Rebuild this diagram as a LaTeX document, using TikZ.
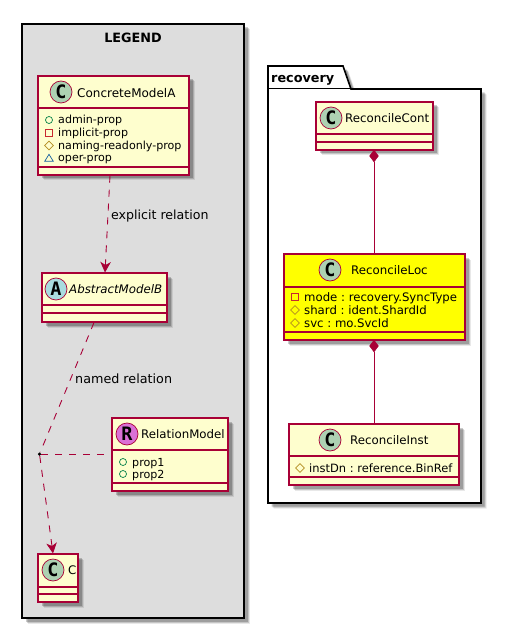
\documentclass[tikz,border=0pt]{standalone}
\usepackage{fontspec}
\setmainfont{DejaVu Sans}
\newfontfamily\spotfont{DejaVu Sans Mono}
\usetikzlibrary{arrows.meta,shadows,shapes.geometric}
\definecolor{umlline}{HTML}{A80036}
\definecolor{umlfill}{HTML}{FEFECE}
\definecolor{umlyellow}{HTML}{FFFF00}
\definecolor{spotclass}{HTML}{ADD1B2}
\definecolor{spotabs}{HTML}{A9DCDF}
\definecolor{spotrel}{HTML}{DA70D6}
\definecolor{iconpub}{HTML}{038048}
\definecolor{iconpriv}{HTML}{C82930}
\definecolor{iconprot}{HTML}{B38D22}
\definecolor{iconpkg}{HTML}{1963A0}
\tikzset{
  softshadow/.style={
    drop shadow={shadow xshift=5.5pt, shadow yshift=-5.5pt, fill=black, opacity=0.09},
    drop shadow={shadow xshift=4.5pt, shadow yshift=-4.5pt, fill=black, opacity=0.15},
    drop shadow={shadow xshift=3.5pt, shadow yshift=-3.5pt, fill=black, opacity=0.2}},
  classbox/.style={draw=umlline, fill=umlfill, line width=1.1pt, inner sep=0pt, softshadow},
  frameline/.style={draw=black, line width=1.6pt, softshadow},
  spot/.style={circle, draw=umlline, line width=0.7pt, minimum size=22pt, inner sep=0pt, font=\spotfont\bfseries\fontsize{18.5}{18.5}\selectfont},
  classname/.style={anchor=base west, inner sep=0pt, font=\fontsize{11.8}{14}\selectfont},
  attr/.style={anchor=base west, inner sep=0pt, font=\frenchspacing\fontsize{11.1}{13}\selectfont},
  attrwide/.style={attr, font=\frenchspacing\fontsize{11.45}{13}\selectfont},
  attrloc/.style={attr, font=\frenchspacing\fontsize{11.7}{13}\selectfont},
  edgetext/.style={anchor=base west, inner sep=0pt, font=\fontsize{12.6}{14}\selectfont},
  seprule/.style={draw=umlline, line width=1.1pt},
  relline/.style={draw=umlline, line width=0.9pt},
  reldash/.style={relline, dash pattern=on 7pt off 7pt},
  compdiamond/.style={diamond, fill=umlline, draw=umlline, line width=0.4pt, minimum width=9pt, minimum height=12pt, inner sep=0pt},
  icon/.style={line width=0.7pt}
}
% 属性前的小图标
\newcommand{\iconpub}[2]{\draw[icon, draw=iconpub] (#1,#2) circle (3.5pt);}
\newcommand{\iconpriv}[2]{\draw[icon, draw=iconpriv] (#1-3.3,#2-3.3) rectangle (#1+3.3,#2+3.3);}
\newcommand{\iconprot}[2]{\draw[icon, draw=iconprot] (#1-4.3,#2) -- (#1,#2-4.3) -- (#1+4.3,#2) -- (#1,#2+4.3) -- cycle;}
\newcommand{\iconpkg}[2]{\draw[icon, draw=iconpkg] (#1-4.3,#2+3.3) -- (#1,#2-3.7) -- (#1+4.3,#2+3.3) -- cycle;}
\begin{document}
\begin{tikzpicture}[x=1pt, y=-1pt, >={Stealth[length=10.5pt, width=10.5pt, inset=3pt]}]
  \useasboundingbox (0,0) rectangle (514,644);

  % 1. 图例外框
  \node[frameline, fill=black!13.5, minimum width=222pt, minimum height=594pt, inner sep=0pt] (legendFrame) at (133,321) {};
  \node[anchor=base, inner sep=0pt, font=\bfseries\fontsize{12.8}{14}\selectfont] (legendTitle) at (133,43) {LEGEND};

  % 2. 图例里的类
  \node[classbox, minimum width=151pt, minimum height=99pt] (concA) at (113.5,125.5) {};
  \draw[seprule] (concA.west |- 0,108) -- (concA.east |- 0,108);
  \draw[seprule] (concA.west |- 0,167) -- (concA.east |- 0,167);
  \node[spot, fill=spotclass] (concASpot) at (61,92) {C};
  \node[classname, font=\fontsize{12}{14}\selectfont] (concAName) at (77,97.5) {ConcreteModelA};
  \iconpub{49}{120}
  \node[attr] (concAProp1) at (58,124) {admin-prop};
  \iconpriv{49}{133}
  \node[attr] (concAProp2) at (58,136.5) {implicit-prop};
  \iconprot{49}{145.5}
  \node[attr] (concAProp3) at (58,149.5) {naming-readonly-prop};
  \iconpkg{49}{158}
  \node[attr] (concAProp4) at (58,162) {oper-prop};

  \node[classbox, minimum width=125pt, minimum height=49pt] (absB) at (104.5,297.5) {};
  \draw[seprule] (absB.west |- 0,305) -- (absB.east |- 0,305);
  \draw[seprule] (absB.west |- 0,313) -- (absB.east |- 0,313);
  \node[spot, fill=spotabs] (absBSpot) at (56,289) {A};
  \node[classname, font=\itshape\fontsize{11.8}{14}\selectfont] (absBName) at (69,293.5) {AbstractModelB};

  \node[classbox, minimum width=116pt, minimum height=73pt] (relModel) at (170,454.5) {};
  \draw[seprule] (relModel.west |- 0,450) -- (relModel.east |- 0,450);
  \draw[seprule] (relModel.west |- 0,483) -- (relModel.east |- 0,483);
  \node[spot, fill=spotrel] (relModelSpot) at (127,434) {R};
  \node[classname] (relModelName) at (141,438.5) {RelationModel};
  \iconpub{123}{462}
  \node[attr] (relModelProp1) at (132,466) {prop1};
  \iconpub{123}{474}
  \node[attr] (relModelProp2) at (132,478) {prop2};

  \node[classbox, minimum width=40pt, minimum height=48pt] (classC) at (58,578) {};
  \draw[seprule] (classC.west |- 0,587) -- (classC.east |- 0,587);
  \draw[seprule] (classC.west |- 0,594) -- (classC.east |- 0,594);
  \node[spot, fill=spotclass] (classCSpot) at (53,570) {C};
  \node[classname] (classCName) at (68,574.5) {C};

  % 3. 图例里的连线
  \node[circle, fill=black, minimum size=3.5pt, inner sep=0pt] (relDot) at (39.5,454) {};
  \draw[reldash, ->] ([xshift=-3.5pt]concA.south) -- ([xshift=0.5pt]absB.north);
  \draw[reldash] ([xshift=-10.5pt]absB.south) -- (relDot);
  \draw[reldash, ->] (relDot) -- ([xshift=-5pt]classC.north);
  \draw[reldash] (relDot) -- (relDot -| relModel.west);
  \node[edgetext] (explicitLabel) at (111,219.5) {explicit relation};
  \node[edgetext, font=\fontsize{12.75}{14}\selectfont] (namedLabel) at (75,383.5) {named relation};

  % 4. recovery 包
  \draw[frameline, fill=white] (268,66) -- (343,66) -- (351,89) -- (481,89) -- (481,503) -- (268,503) -- cycle;
  \draw[line width=1pt] (268,89) -- (351,89);
  \node[anchor=base west, inner sep=0pt, font=\bfseries\fontsize{12.8}{14}\selectfont] (recoveryTitle) at (271,82.5) {recovery};

  % 5. 包里的类
  \node[classbox, minimum width=117pt, minimum height=48pt] (recCont) at (374.5,126) {};
  \draw[seprule] (recCont.west |- 0,134) -- (recCont.east |- 0,134);
  \draw[seprule] (recCont.west |- 0,142) -- (recCont.east |- 0,142);
  \node[spot, fill=spotclass] (recContSpot) at (331,118) {C};
  \node[classname] (recContName) at (345,122.5) {ReconcileCont};

  \node[classbox, fill=umlyellow, minimum width=181pt, minimum height=86pt] (recLoc) at (374.5,297) {};
  \draw[seprule] (recLoc.west |- 0,287) -- (recLoc.east |- 0,287);
  \draw[seprule] (recLoc.west |- 0,332) -- (recLoc.east |- 0,332);
  \node[spot, fill=spotclass] (recLocSpot) at (330,270) {C};
  \node[classname] (recLocName) at (351,274.5) {ReconcileLoc};
  \iconpriv{295}{297}
  \node[attrloc] (recLocProp1) at (304,301) {mode : recovery.SyncType};
  \iconprot{295}{310}
  \node[attrloc] (recLocProp2) at (304,314) {shard : ident.ShardId};
  \iconprot{295}{323}
  \node[attrloc] (recLocProp3) at (304,327) {svc : mo.SvcId};

  \node[classbox, minimum width=170pt, minimum height=61pt] (recInst) at (374,454.5) {};
  \draw[seprule] (recInst.west |- 0,456) -- (recInst.east |- 0,456);
  \draw[seprule] (recInst.west |- 0,477) -- (recInst.east |- 0,477);
  \node[spot, fill=spotclass] (recInstSpot) at (330,440) {C};
  \node[classname] (recInstName) at (350,444.5) {ReconcileInst};
  \iconprot{300}{468}
  \node[attrwide] (recInstProp1) at (309,472) {instDn : reference.BinRef};

  % 6. 组合关系
  \node[compdiamond] (contDiamond) at (374,156) {};
  \node[compdiamond] (locDiamond) at (374,346) {};
  \draw[relline] (contDiamond.south) -- (contDiamond.south |- recLoc.north);
  \draw[relline] (locDiamond.south) -- (locDiamond.south |- recInst.north);
\end{tikzpicture}
\end{document}
